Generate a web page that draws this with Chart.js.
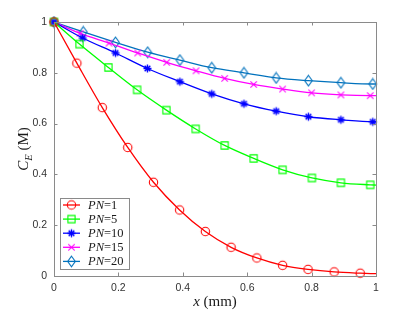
<!DOCTYPE html>
<html><head><meta charset="utf-8">
<script src="https://cdn.jsdelivr.net/npm/chart.js@4"></script>
<style>html,body{margin:0;padding:0;background:#fff}#wrap{width:415px;height:312px}</style>
</head><body><div id="wrap"><canvas id="c" width="415" height="312"></canvas></div>
<script>
// ---- data ----
const seriesLabels = ["1", "5", "10", "15", "20"];
const xPN1  = [0, 0.071, 0.150, 0.229, 0.309, 0.390, 0.470, 0.550, 0.630, 0.710, 0.789, 0.870, 0.951, 1];
const yPN1  = [1, 0.838, 0.663, 0.506, 0.369, 0.260, 0.175, 0.113, 0.071, 0.042, 0.026, 0.016, 0.011, 0.009];
const xPN5  = [0, 0.079, 0.169, 0.258, 0.349, 0.440, 0.530, 0.620, 0.710, 0.801, 0.891, 0.982, 1];
const yPN5  = [1, 0.913, 0.821, 0.733, 0.653, 0.579, 0.514, 0.463, 0.418, 0.386, 0.367, 0.359, 0.358];
const xPN10 = [0, 0.089, 0.191, 0.290, 0.391, 0.490, 0.590, 0.690, 0.790, 0.891, 0.990, 1];
const yPN10 = [1, 0.937, 0.878, 0.817, 0.765, 0.717, 0.678, 0.649, 0.627, 0.615, 0.607, 0.607];
const xPN15 = [0, 0.081, 0.171, 0.260, 0.350, 0.441, 0.530, 0.620, 0.710, 0.800, 0.891, 0.982, 1];
const yPN15 = [1, 0.955, 0.917, 0.878, 0.841, 0.808, 0.778, 0.754, 0.736, 0.721, 0.713, 0.710, 0.710];
const xPN20 = [0, 0.091, 0.191, 0.291, 0.391, 0.490, 0.590, 0.690, 0.790, 0.891, 0.990, 1];
const yPN20 = [1, 0.961, 0.920, 0.881, 0.850, 0.820, 0.800, 0.780, 0.769, 0.761, 0.756, 0.756];
const xTicks = [0, 0.2, 0.4, 0.6, 0.8, 1];
const yTicks = [0, 0.2, 0.4, 0.6, 0.8, 1];
const tickText = ["0", "0.2", "0.4", "0.6", "0.8", "1"];

// ---- marker images ----
function mk(kind, color){
  const c = document.createElement('canvas'); c.width = 13; c.height = 13;
  const g = c.getContext('2d'); g.strokeStyle = color; g.lineWidth = 1.1;
  const m = 6.5;
  g.beginPath();
  if (kind === 'circle') { g.arc(m, m, 4.2, 0, Math.PI*2); }
  else if (kind === 'square') { g.rect(m-3.6, m-3.6, 7.2, 7.2); }
  else if (kind === 'star') {
    for (let i = 0; i < 4; i++) { const a = i*Math.PI/4; g.moveTo(m+4*Math.cos(a), m+4*Math.sin(a)); g.lineTo(m-4*Math.cos(a), m-4*Math.sin(a)); }
    g.lineWidth = 1.4;
  }
  else if (kind === 'x') { g.moveTo(m-3.2,m-3.2); g.lineTo(m+3.2,m+3.2); g.moveTo(m+3.2,m-3.2); g.lineTo(m-3.2,m+3.2); }
  else if (kind === 'diamond') { g.moveTo(m, m-5.3); g.lineTo(m+3.8, m); g.lineTo(m, m+5.3); g.lineTo(m-3.8, m); g.closePath(); }
  g.stroke();
  return c;
}
const colors = ['#ff0000', '#00ff00', '#0000ff', '#ff00ff', '#0072bd'];
const kinds = ['circle', 'square', 'star', 'x', 'diamond'];
const markers = kinds.map((k, i) => mk(k, colors[i]));
const xs = [xPN1, xPN5, xPN10, xPN15, xPN20];
const ys = [yPN1, yPN5, yPN10, yPN15, yPN20];

const datasets = xs.map((xa, i) => ({
  label: 'PN=' + seriesLabels[i],
  data: xa.map((x, j) => ({x: x, y: ys[i][j]})),
  borderColor: colors[i],
  borderWidth: 1.3,
  pointStyle: markers[i],
  pointRadius: xa.map((x, j) => (j === xa.length - 1 ? 0 : 5)),
  pointHoverRadius: 0,
  cubicInterpolationMode: 'monotone',
  fill: false,
  clip: false
}));

const AX = '#8a8a8a';
const decor = {
  id: 'decor',
  afterDatasetsDraw(chart) {
    const ctx = chart.ctx, a = chart.chartArea, sx = chart.scales.x, sy = chart.scales.y;
    ctx.save();
    ctx.strokeStyle = AX; ctx.lineWidth = 1;
    ctx.strokeRect(Math.round(a.left)+0.5, Math.round(a.top)+0.5, Math.round(a.right-a.left), Math.round(a.bottom-a.top));
    ctx.beginPath();
    xTicks.forEach(v => { const p = Math.round(sx.getPixelForValue(v))+0.5;
      ctx.moveTo(p, a.bottom); ctx.lineTo(p, a.bottom-3.5); ctx.moveTo(p, a.top); ctx.lineTo(p, a.top+3.5); });
    yTicks.forEach(v => { const p = Math.round(sy.getPixelForValue(v))+0.5;
      ctx.moveTo(a.left, p); ctx.lineTo(a.left+3.5, p); ctx.moveTo(a.right, p); ctx.lineTo(a.right-3.5, p); });
    ctx.stroke();

    // legend
    const L = 60, T = 198, W = 69, H = 71;
    ctx.fillStyle = '#fff'; ctx.fillRect(L, T, W, H);
    ctx.strokeStyle = '#8a8a8a'; ctx.strokeRect(L+0.5, T+0.5, W, H);
    datasets.forEach((d, i) => {
      const yc = 205 + i*14.1;
      ctx.strokeStyle = colors[i]; ctx.lineWidth = 1.3;
      ctx.beginPath(); ctx.moveTo(63, yc); ctx.lineTo(80, yc); ctx.stroke();
      ctx.drawImage(markers[i], 71.5-6.5, yc-6.5);
      ctx.fillStyle = '#1a1a1a'; ctx.textBaseline = 'middle'; ctx.textAlign = 'left';
      ctx.font = 'italic 12.5px "Liberation Serif"';
      ctx.fillText('PN', 88, yc+0.5);
      const w = ctx.measureText('PN').width;
      ctx.font = '12.5px "Liberation Serif"';
      ctx.fillText('=' + seriesLabels[i], 88 + w, yc+0.5);
    });

    // axis titles
    ctx.fillStyle = '#1a1a1a';
    ctx.textBaseline = 'alphabetic';
    ctx.font = 'italic 15px "Liberation Serif"';
    const wx = ctx.measureText('x').width;
    ctx.font = '15px "Liberation Serif"';
    const wr = ctx.measureText(' (mm)').width;
    const cx = (a.left + a.right)/2, sxs = cx - (wx + wr)/2;
    ctx.font = 'italic 15px "Liberation Serif"'; ctx.fillText('x', sxs, 306);
    ctx.font = '15px "Liberation Serif"'; ctx.fillText(' (mm)', sxs + wx, 306);

    ctx.save();
    ctx.translate(28, (a.top + a.bottom)/2); ctx.rotate(-Math.PI/2);
    ctx.font = 'italic 15px "Liberation Serif"'; const wC = ctx.measureText('C').width;
    ctx.font = 'italic 10.5px "Liberation Serif"'; const wE = ctx.measureText('E').width;
    ctx.font = '15px "Liberation Serif"'; const wM = ctx.measureText(' (M)').width;
    let s = -(wC + wE + wM)/2;
    ctx.font = 'italic 15px "Liberation Serif"'; ctx.fillText('C', s, 0); s += wC;
    ctx.font = 'italic 10.5px "Liberation Serif"'; ctx.fillText('E', s, 3.5); s += wE;
    ctx.font = '15px "Liberation Serif"'; ctx.fillText(' (M)', s, 0);
    ctx.restore();
    ctx.restore();
  }
};

const fmt = (v) => { const k = xTicks.findIndex(t => Math.abs(t - v) < 1e-9); return k >= 0 ? tickText[k] : ''; };

new Chart(document.getElementById('c'), {
  type: 'line',
  data: { datasets: datasets },
  options: {
    responsive: false, animation: false, devicePixelRatio: 1,
    layout: { padding: { left: 0, top: 22, right: 39, bottom: 0 } },
    plugins: { legend: { display: false }, tooltip: { enabled: false } },
    scales: {
      x: { type: 'linear', min: 0, max: 1,
        afterFit: s => { s.height = 36; },
        afterBuildTicks: s => { s.ticks = xTicks.map(v => ({value: v})); },
        grid: { display: false, drawTicks: false }, border: { display: false },
        ticks: { padding: 6, color: '#333', callback: fmt, font: { family: '"Liberation Sans"', size: 10.5 }, maxRotation: 0 } },
      y: { type: 'linear', min: 0, max: 1,
        afterFit: s => { s.width = 54; },
        afterBuildTicks: s => { s.ticks = yTicks.map(v => ({value: v})); },
        grid: { display: false, drawTicks: false }, border: { display: false },
        ticks: { padding: 7, color: '#333', callback: fmt, font: { family: '"Liberation Sans"', size: 10.5 } } }
    }
  },
  plugins: [decor]
});
</script></body></html>
